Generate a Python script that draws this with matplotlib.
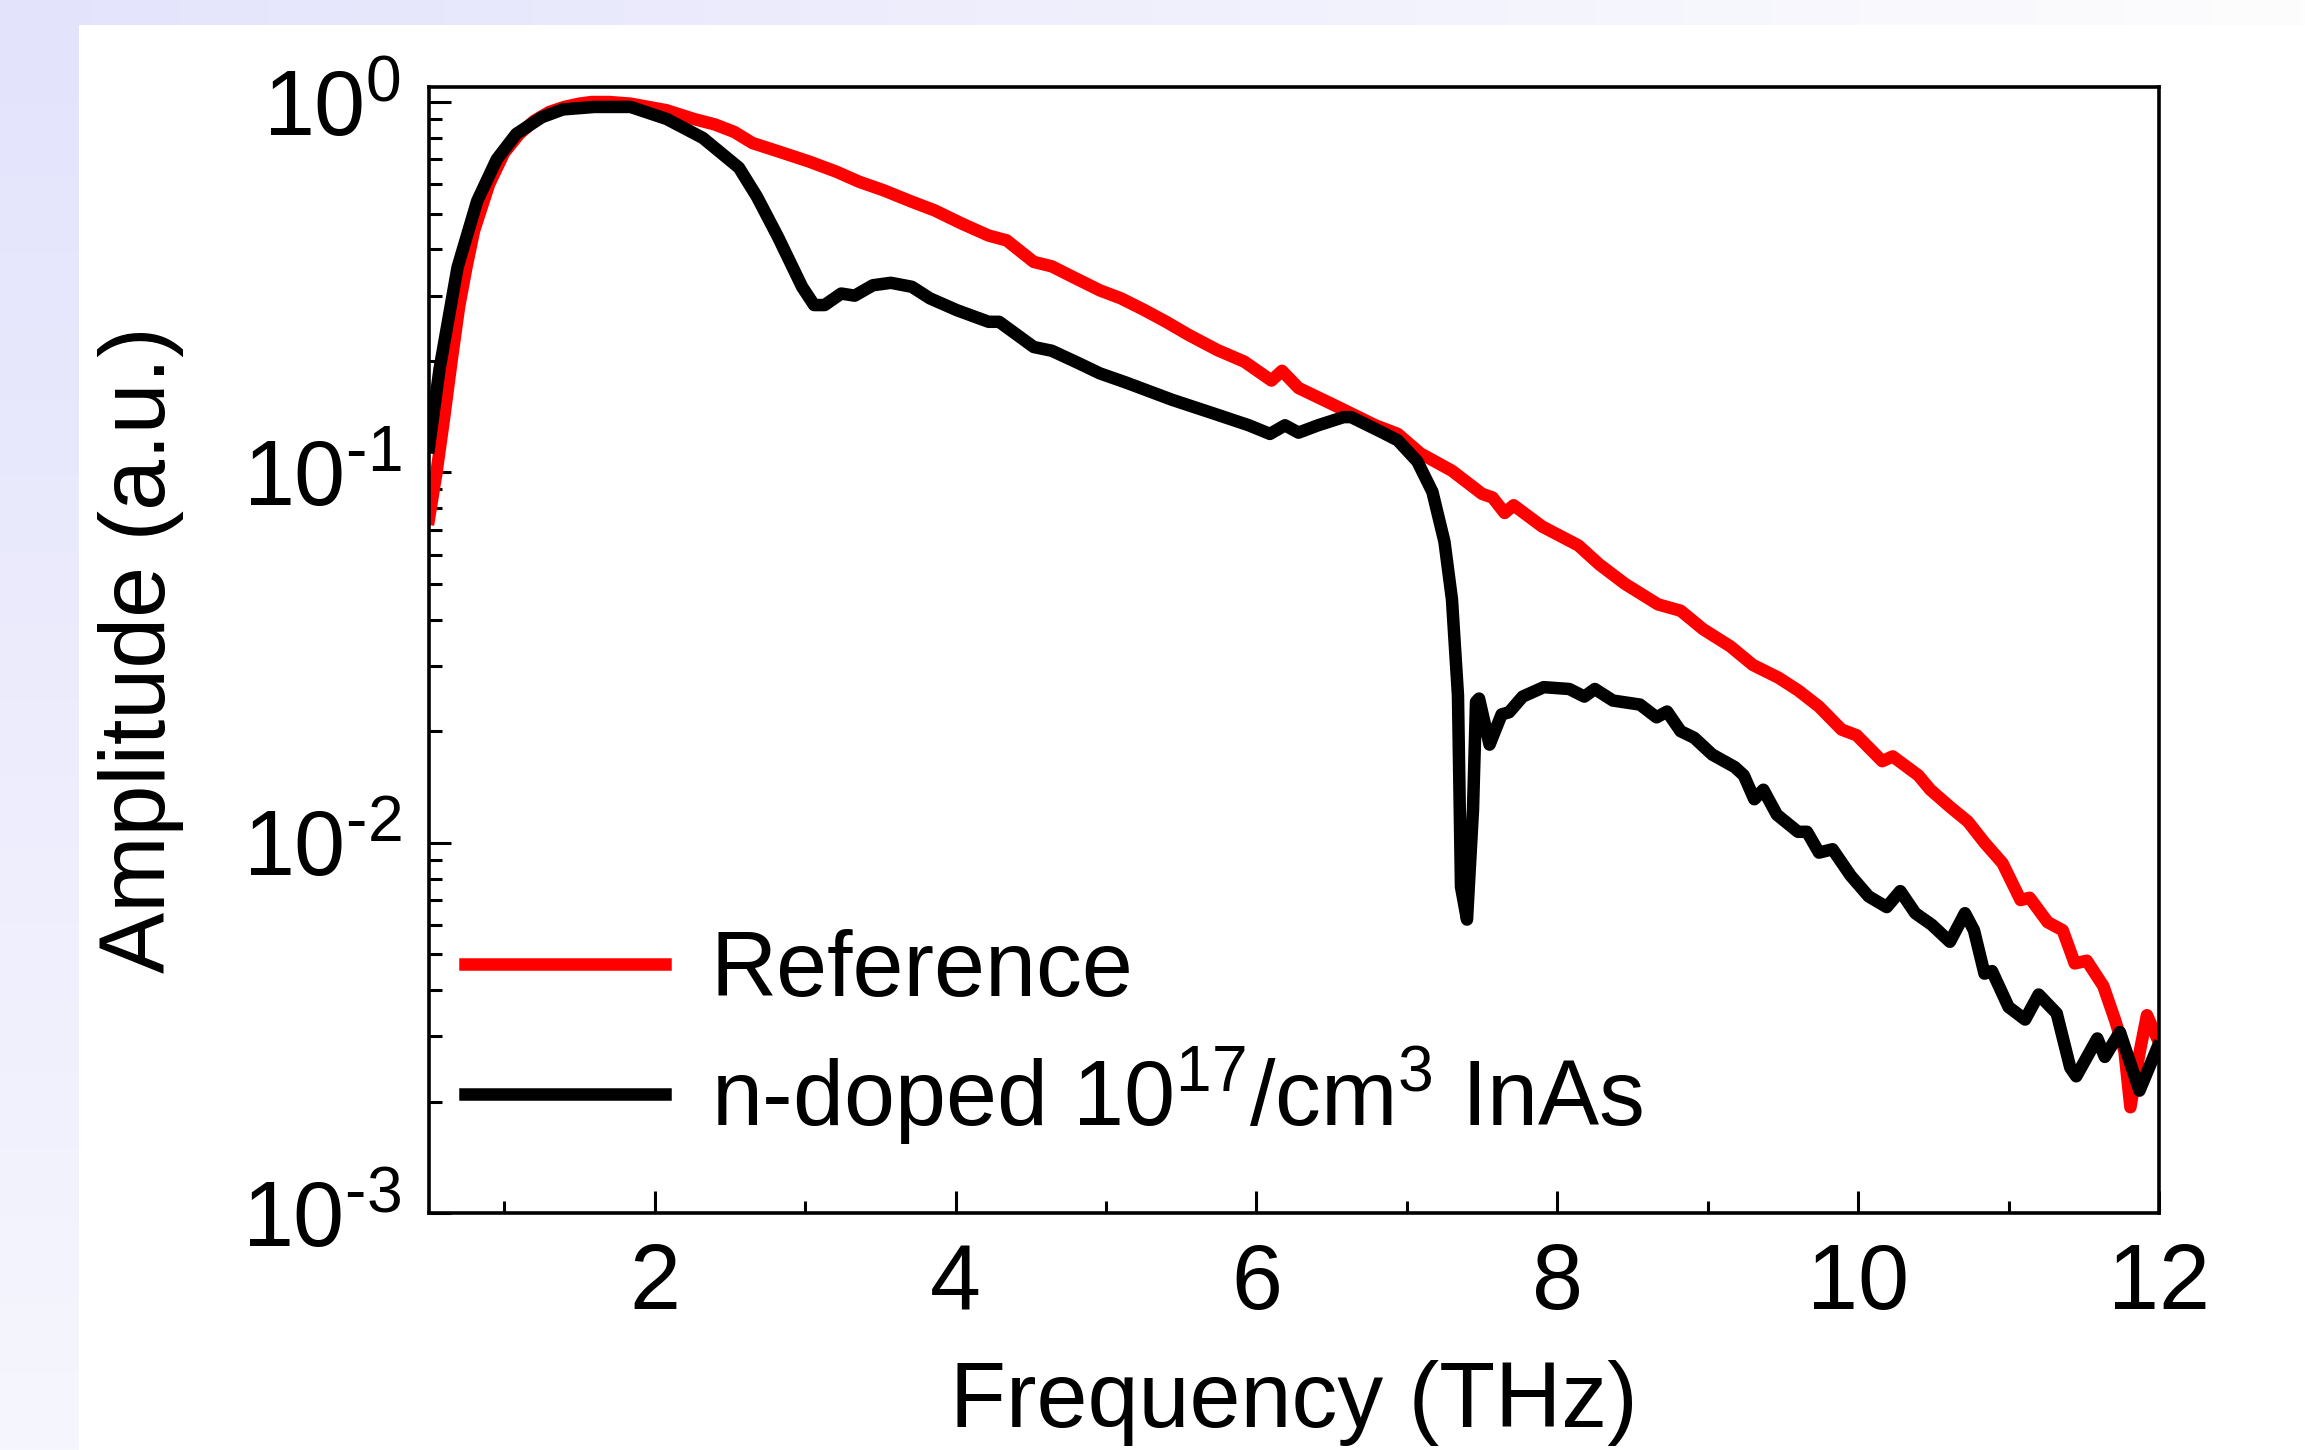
import numpy as np
import matplotlib
matplotlib.use("Agg")
import matplotlib.pyplot as plt
from matplotlib.ticker import FixedLocator, FixedFormatter, NullFormatter

FONT = "Liberation Sans"
fs = 66
plt.rcParams['font.family'] = [FONT, 'DejaVu Sans']
plt.rcParams['mathtext.fontset'] = 'custom'
plt.rcParams['mathtext.rm'] = FONT
plt.rcParams['mathtext.it'] = FONT
plt.rcParams['mathtext.bf'] = FONT

# ---- data ----
red_x = [0.5, 0.55, 0.6, 0.65, 0.7, 0.75, 0.8, 0.9, 1.0, 1.1, 1.2, 1.3, 1.4, 1.5, 1.58, 1.7, 1.84,
         2.08, 2.26, 2.4, 2.53, 2.65, 2.83, 3.03, 3.21, 3.36, 3.52, 3.71, 3.86, 4.04, 4.22, 4.34,
         4.52, 4.64, 4.78, 4.96, 5.1, 5.25, 5.4, 5.55, 5.74, 5.92, 6.10, 6.17, 6.28, 6.53, 6.79,
         6.94, 7.09, 7.30, 7.50, 7.57, 7.65, 7.71, 7.90, 8.14, 8.28, 8.45, 8.67, 8.82, 8.97, 9.15,
         9.30, 9.47, 9.60, 9.74, 9.89, 9.99, 10.16, 10.23, 10.40, 10.48, 10.61, 10.73, 10.84,
         10.96, 11.08, 11.14, 11.26, 11.36, 11.44, 11.52, 11.63, 11.71, 11.77, 11.81, 11.87,
         11.92, 12.0]
red_y = [0.075, 0.1, 0.14, 0.2, 0.28, 0.36, 0.45, 0.6, 0.73, 0.82, 0.89, 0.94, 0.97, 0.99, 1.0,
         1.0, 0.99, 0.95, 0.90, 0.87, 0.83, 0.775, 0.734, 0.69, 0.648, 0.609, 0.578, 0.538, 0.51,
         0.47, 0.436, 0.423, 0.37, 0.36, 0.337, 0.31, 0.295, 0.275, 0.255, 0.235, 0.214, 0.199,
         0.177, 0.188, 0.169, 0.151, 0.134, 0.127, 0.1125, 0.101, 0.0875, 0.0855, 0.0777, 0.0815,
         0.0714, 0.0635, 0.0564, 0.050, 0.044, 0.0423, 0.0377, 0.0339, 0.0302, 0.0279, 0.0258,
         0.0233, 0.0202, 0.0195, 0.0166, 0.0171, 0.0152, 0.0139, 0.0125, 0.0114, 0.0100, 0.0088,
         0.0070, 0.0071, 0.0061, 0.0058, 0.00472, 0.0048, 0.0041, 0.0033, 0.00274, 0.00193,
         0.0027, 0.00342, 0.00289]

black_x = [0.5, 0.57, 0.69, 0.82, 0.95, 1.08, 1.25, 1.39, 1.6, 1.84, 2.08, 2.32, 2.56, 2.68, 2.82,
           2.98, 3.06, 3.13, 3.24, 3.33, 3.45, 3.57, 3.71, 3.83, 4.01, 4.22, 4.29, 4.52, 4.64,
           4.82, 4.96, 5.13, 5.44, 5.72, 5.95, 6.09, 6.19, 6.28, 6.41, 6.58, 6.63, 6.84, 6.94,
           7.07, 7.17, 7.25, 7.30, 7.34, 7.36, 7.40, 7.44, 7.46, 7.48, 7.55, 7.63, 7.68, 7.77,
           7.91, 8.08, 8.18, 8.25, 8.37, 8.55, 8.66, 8.73, 8.82, 8.91, 9.03, 9.18, 9.24, 9.31,
           9.37, 9.46, 9.60, 9.66, 9.74, 9.83, 9.95, 10.07, 10.19, 10.28, 10.38, 10.49, 10.61,
           10.71, 10.77, 10.84, 10.89, 11.0, 11.11, 11.20, 11.32, 11.41, 11.45, 11.59, 11.64,
           11.74, 11.87, 11.99]
black_y = [0.117, 0.19, 0.358, 0.54, 0.70, 0.82, 0.91, 0.955, 0.97, 0.97, 0.90, 0.80, 0.665,
           0.555, 0.432, 0.317, 0.283, 0.283, 0.304, 0.30, 0.32, 0.325, 0.317, 0.295, 0.274,
           0.255, 0.255, 0.218, 0.213, 0.197, 0.185, 0.175, 0.157, 0.144, 0.134, 0.127, 0.134,
           0.128, 0.134, 0.141, 0.141, 0.128, 0.122, 0.107, 0.0886, 0.065, 0.0454, 0.025, 0.0076,
           0.0062, 0.0123, 0.024, 0.0245, 0.0184, 0.0222, 0.0225, 0.0248, 0.0263, 0.026, 0.0248,
           0.026, 0.0242, 0.0236, 0.0218, 0.0226, 0.020, 0.0192, 0.0173, 0.016, 0.0152, 0.0131,
           0.0139, 0.0119, 0.0107, 0.0107, 0.0094, 0.0096, 0.00815, 0.00716, 0.0067, 0.0074,
           0.00645, 0.0060, 0.0054, 0.00645, 0.0058, 0.00443, 0.0045, 0.0036, 0.00333, 0.00389,
           0.00346, 0.00247, 0.00234, 0.00296, 0.00264, 0.00308, 0.00214, 0.0028]

series_labels = ["Reference", r"n-doped 10$^{\mathregular{17}}$/cm$^{\mathregular{3}}$ InAs"]
x_major = [2, 4, 6, 8, 10, 12]
x_minor = [1, 3, 5, 7, 9, 11]
y_major = [1e-3, 1e-2, 1e-1, 1e0]
y_major_labels = [r"$\mathregular{10^{\text{-}3}}$", r"$\mathregular{10^{\text{-}2}}$",
                  r"$\mathregular{10^{\text{-}1}}$", r"$\mathregular{10^{0}}$"]
x_label = "Frequency (THz)"
y_label = "Amplitude (a.u.)"

W, H = 2305, 1450
fig = plt.figure(figsize=(W / 100, H / 100), dpi=100, facecolor="white")

# background decoration: lavender strips along the left and top edges
bg = fig.add_axes([0, 0, 1, 1], zorder=-10)
bg.axis("off")
c0 = np.array([227, 227, 252]) / 255
c_bottom = np.array([246, 246, 254]) / 255
c_right = np.array([253, 253, 254]) / 255
t = np.linspace(0, 1, 256)
left_strip = (c0[None, :] * (1 - t[:, None]) + c_bottom[None, :] * t[:, None])[:, None, :]
top_strip = (c0[None, :] * (1 - t[:, None]) + c_right[None, :] * t[:, None])[None, :, :]
bg.imshow(left_strip, extent=[0, 79, H, 25], aspect="auto", interpolation="bilinear")
bg.imshow(top_strip, extent=[0, W, 25, 0], aspect="auto", interpolation="bilinear")
bg.set_xlim(0, W)
bg.set_ylim(H, 0)

ax = fig.add_axes([429 / W, 1 - 1213 / H, (2159 - 429) / W, (1213 - 87) / H])
ax.set_facecolor("none")

ax.plot(red_x, red_y, color="#ff0000", lw=9, label=series_labels[0], solid_joinstyle="round")
ax.plot(black_x, black_y, color="black", lw=9, label=series_labels[1], solid_joinstyle="round")

ax.set_yscale("log")
ax.set_xlim(0.5, 12)
ax.set_ylim(1e-3, 1.098)

ax.xaxis.set_major_locator(FixedLocator(x_major))
ax.xaxis.set_minor_locator(FixedLocator(x_minor))
ax.set_xticklabels([str(v) for v in x_major])
ax.yaxis.set_major_locator(FixedLocator(y_major))
ax.yaxis.set_major_formatter(FixedFormatter(y_major_labels))
minors = [m * 10.0 ** e for e in (-3, -2, -1) for m in range(2, 10)]
ax.yaxis.set_minor_locator(FixedLocator(minors))
ax.yaxis.set_minor_formatter(NullFormatter())

ax.tick_params(axis="both", which="major", direction="in", length=16, width=2.2,
               labelsize=fs, top=False, right=False)
ax.tick_params(axis="both", which="minor", direction="in", length=9, width=2.2,
               top=False, right=False)
ax.tick_params(axis="x", which="major", pad=21)
ax.tick_params(axis="y", which="major", pad=20)

for s in ax.spines.values():
    s.set_linewidth(2.6)

ax.set_xlabel(x_label, fontsize=fs, labelpad=23)
ax.set_ylabel(y_label, fontsize=fs, labelpad=42)

leg = ax.legend(loc="lower left", bbox_to_anchor=(0.005, 0.034), frameon=False, fontsize=fs,
                handlelength=2.18, handletextpad=0.5, labelspacing=0.32, borderaxespad=0.0,
                borderpad=0.3)
for h in leg.get_lines():
    h.set_linewidth(9)

fig.savefig("out.png", dpi=100, facecolor="white")
